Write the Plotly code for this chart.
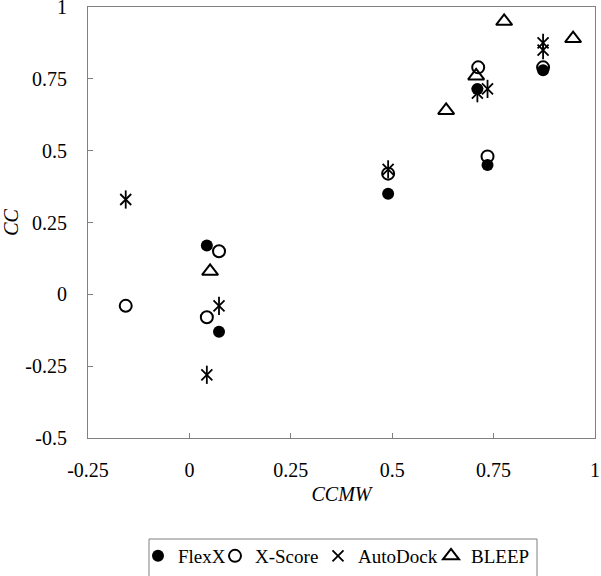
import plotly.graph_objects as go

flexx_x = [0.043, 0.073, 0.49, 0.71, 0.735, 0.872]
flexx_y = [0.17, -0.13, 0.35, 0.715, 0.45, 0.78]

xscore_x = [-0.157, 0.073, 0.043, 0.49, 0.712, 0.735, 0.872]
xscore_y = [-0.04, 0.15, -0.08, 0.42, 0.79, 0.48, 0.79]

autodock_x = [-0.157, 0.073, 0.043, 0.49, 0.71, 0.735, 0.872, 0.872]
autodock_y = [0.33, -0.04, -0.28, 0.435, 0.70, 0.715, 0.875, 0.85]

bleep_x = [0.051, 0.633, 0.707, 0.776, 0.946]
bleep_y = [0.08, 0.64, 0.76, 0.95, 0.89]

x_ticks = [-0.25, 0, 0.25, 0.5, 0.75, 1]
y_ticks = [-0.5, -0.25, 0, 0.25, 0.5, 0.75, 1]

FONT = "Times New Roman"

fig = go.Figure()
fig.add_trace(go.Scatter(x=flexx_x, y=flexx_y, mode="markers", name="FlexX", legend="legend",
                         marker=dict(symbol="circle", size=12, color="black")))
fig.add_trace(go.Scatter(x=xscore_x, y=xscore_y, mode="markers", name="X-Score", legend="legend2",
                         marker=dict(symbol="circle-open", size=12, color="black",
                                     line=dict(width=2, color="black"))))
# AutoDock star: X arms plus a vertical bar (six-armed asterisk)
fig.add_trace(go.Scatter(x=autodock_x, y=autodock_y, mode="markers", name="AutoDock", legend="legend3",
                         legendgroup="autodock",
                         marker=dict(symbol="x-thin-open", size=11, color="black",
                                     line=dict(width=1.8, color="black"))))
fig.add_trace(go.Scatter(x=autodock_x, y=autodock_y, mode="markers", name="AutoDock", legend="legend3",
                         legendgroup="autodock", showlegend=False,
                         marker=dict(symbol="line-ns-open", size=13, color="black",
                                     line=dict(width=1.8, color="black"))))
fig.add_trace(go.Scatter(x=bleep_x, y=bleep_y, mode="markers", name="BLEEP", legend="legend4",
                         marker=dict(symbol="triangle-up-open", size=14, color="black",
                                     line=dict(width=2, color="black"))))

axis_common = dict(showline=True, linecolor="#808080", linewidth=1, mirror=True,
                   ticks="inside", ticklen=5, tickcolor="#808080", showgrid=False,
                   zeroline=False, ticklabeloverflow="allow", automargin=False,
                   tickfont=dict(family=FONT, size=20, color="black"))

fig.update_xaxes(range=[-0.25, 1], tickvals=x_ticks, ticktext=[str(v) for v in x_ticks],
                 ticklabelstandoff=14,
                 title=dict(text="<i>CCMW</i>", font=dict(family=FONT, size=20, color="black"),
                            standoff=6),
                 **axis_common)
fig.update_yaxes(range=[-0.5, 1], tickvals=y_ticks, ticktext=[str(v) for v in y_ticks],
                 ticklabelstandoff=16,
                 title=dict(text="<i>CC</i>", font=dict(family=FONT, size=20, color="black"),
                            standoff=4),
                 **axis_common)

# plot area: x 88..595 px, y 7..438 px
def px_x(p):
    return (p - 88) / 507.0

def px_y(p):
    return (438 - p) / 431.0

legend_common = dict(orientation="h", yanchor="top", y=px_y(537), xanchor="left",
                     bgcolor="rgba(0,0,0,0)", borderwidth=0, itemwidth=30,
                     font=dict(family=FONT, size=19, color="black"))
legend_left_px = [138, 215, 318, 431]

fig.update_layout(
    width=601, height=576,
    margin=dict(l=88, r=6, t=7, b=138, autoexpand=False),
    plot_bgcolor="white", paper_bgcolor="white",
    showlegend=True,
    legend=dict(x=px_x(legend_left_px[0]), **legend_common),
    legend2=dict(x=px_x(legend_left_px[1]), **legend_common),
    legend3=dict(x=px_x(legend_left_px[2]), **legend_common),
    legend4=dict(x=px_x(legend_left_px[3]), **legend_common),
    shapes=[dict(type="rect", xref="paper", yref="paper",
                 x0=px_x(149), x1=px_x(537), y0=px_y(539), y1=px_y(590),
                 line=dict(color="#808080", width=1), fillcolor="rgba(0,0,0,0)")],
)

fig.write_html("out.html", config={"displayModeBar": False},
               post_script="document.body.style.margin='0px';")
